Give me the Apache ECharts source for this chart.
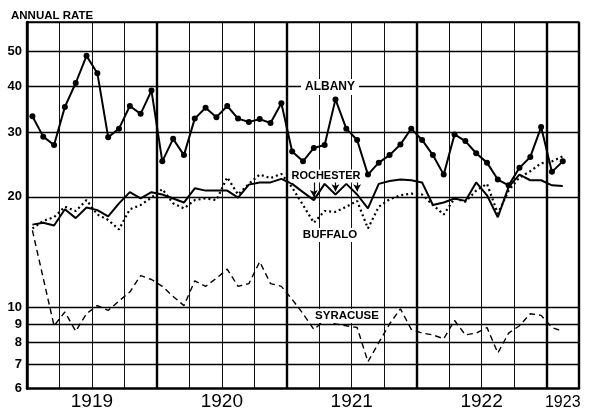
<!DOCTYPE html>
<html>
<head>
<meta charset="utf-8">
<script src="https://cdn.jsdelivr.net/npm/echarts@6/dist/echarts.min.js"></script>
<style>
html,body{margin:0;padding:0;background:#fff;}
#chart{width:594px;height:411px;}
</style>
</head>
<body>
<div id="chart"></div>
<script>
// months Jan 1919 .. Feb 1923
const months = [
  '1919-01','1919-02','1919-03','1919-04','1919-05','1919-06','1919-07','1919-08','1919-09','1919-10','1919-11','1919-12',
  '1920-01','1920-02','1920-03','1920-04','1920-05','1920-06','1920-07','1920-08','1920-09','1920-10','1920-11','1920-12',
  '1921-01','1921-02','1921-03','1921-04','1921-05','1921-06','1921-07','1921-08','1921-09','1921-10','1921-11','1921-12',
  '1922-01','1922-02','1922-03','1922-04','1922-05','1922-06','1922-07','1922-08','1922-09','1922-10','1922-11','1922-12',
  '1923-01','1923-02'
]

const albany = [33.2,29.2,27.7,35.2,40.9,48.5,43.5,29.1,30.7,35.4,33.7,39.0,
  25.0,28.8,26.0,32.7,35.0,33.0,35.4,32.7,32.0,32.6,31.8,36.0,
  26.6,25.0,27.2,27.7,36.9,30.7,28.6,23.0,24.8,26.0,27.8,30.7,
  28.6,26.0,23.0,29.6,28.4,26.3,24.8,22.3,21.5,24.0,25.7,31.0,
  23.4,25.0]

const rochester = [16.8,17.0,16.7,18.5,17.5,18.7,18.4,17.7,19.2,20.6,19.8,20.6,
  20.3,19.8,19.3,21.1,20.8,20.8,20.8,19.9,21.6,21.9,21.9,22.4,
  21.7,20.6,19.6,21.7,20.3,21.7,20.3,18.6,21.7,22.1,22.3,22.2,
  21.9,19.0,19.3,19.8,19.5,21.9,20.2,17.6,21.3,23.0,22.2,22.2,
  21.5,21.4]

const buffalo = [16.4,17.2,17.6,18.8,18.3,19.6,17.9,17.3,16.3,18.5,19.0,19.9,
  21.0,19.2,18.6,19.6,19.8,19.6,22.6,20.3,21.7,23.0,22.5,23.1,
  21.2,19.0,17.0,18.3,18.2,18.8,19.5,16.4,18.8,19.7,20.2,20.4,
  20.3,19.0,17.9,19.8,19.4,20.8,21.7,18.0,20.8,22.6,23.5,24.7,
  25.0,25.8]

const syracuse = [16.2,12.0,8.9,9.7,8.6,9.6,10.1,9.8,10.4,11.0,12.2,11.9,
  11.4,10.7,10.1,11.8,11.4,12.0,12.7,11.4,11.6,13.3,11.6,11.4,
  10.5,9.6,8.7,9.2,9.0,8.9,8.8,7.1,8.0,9.0,9.9,8.7,
  8.5,8.4,8.2,9.2,8.4,8.5,8.8,7.5,8.5,8.9,9.6,9.5,
  8.8,8.6]

// year labels, placed at the middle of each year (in months from Jan 1919)
const yearLabels = ['1919','1920','1921','1922','1923']
const yearMid = [6,18,30,42,49.5]
const yTicks = [6,7,8,9,10,20,30,40,50]
const yLines = [7,8,9,10,20,30,40,50,60]

// Rochester points marked with arrows
const arrowMonths = ['1921-03','1921-05','1921-07']

const FONT = '"Liberation Sans", Arial, sans-serif'

const chart = echarts.init(document.getElementById('chart'))

//每个月画在月份格子的中间
function toPts(arr){
  return arr.map((v,i)=>[i+0.5, v])
}

const arrowData = arrowMonths.map(m=>{
  const i = months.indexOf(m)
  return [{coord:[i+0.5, 22.6]},{coord:[i+0.5, rochester[i]*1.02]}]
})

const option = {
  animation:false,
  backgroundColor:'#fff',
  title:{
    text:'ANNUAL RATE', left:6, top:5,
    textStyle:{fontFamily:FONT, fontSize:11.5, fontWeight:'bold', color:'#000'}
  },
  grid:{left:27, right:15, top:22, bottom:20},
  xAxis:[
    {
      type:'value', min:0, max:51, interval:3, position:'bottom',
      axisLine:{show:true, onZero:false, lineStyle:{color:'#000', width:2.5}},
      axisTick:{show:false},
      splitLine:{show:true, lineStyle:{color:'#111', width:1}},
      axisLabel:{
        customValues:yearMid,
        formatter:v=>{
          const k = yearMid.indexOf(v)
          if(k<0) return ''
          // last year only partly shown, smaller label
          return k===yearLabels.length-1 ? '{s|'+yearLabels[k]+'}' : '{b|'+yearLabels[k]+'}'
        },
        rich:{
          b:{fontFamily:FONT, fontSize:19, color:'#000', lineHeight:22},
          s:{fontFamily:FONT, fontSize:16, color:'#000', lineHeight:22, padding:[2,0,0,0]}
        },
        fontFamily:FONT, fontSize:19, color:'#000', margin:2
      }
    },
    {
      type:'value', min:0, max:51, interval:12, position:'top',
      axisLine:{show:true, onZero:false, lineStyle:{color:'#000', width:1.5}},
      axisTick:{show:false},
      axisLabel:{show:false},
      splitLine:{show:true, lineStyle:{color:'#000', width:2.4}}
    }
  ],
  yAxis:[
    {
      type:'log', logBase:10, min:6, max:60,
      axisLine:{show:true, lineStyle:{color:'#000', width:2.5}},
      axisTick:{show:false, customValues:yLines},
      axisLabel:{customValues:yTicks, fontFamily:FONT, fontSize:13, fontWeight:'bold', color:'#000', margin:5},
      splitLine:{show:true, lineStyle:{color:'#000', width:1.3}}
    },
    {
      type:'log', logBase:10, min:6, max:60, position:'right',
      axisLine:{show:true, lineStyle:{color:'#000', width:1.8}},
      axisTick:{show:false}, axisLabel:{show:false}, splitLine:{show:false}
    }
  ],
  series:[
    {
      name:'Albany', type:'line', data:toPts(albany),
      symbol:'circle', symbolSize:6, showSymbol:true,
      itemStyle:{color:'#000'},
      lineStyle:{color:'#000', width:2}
    },
    {
      name:'Rochester', type:'line', data:toPts(rochester),
      symbol:'none',
      lineStyle:{color:'#000', width:2},
      markLine:{
        silent:true, symbol:['none','arrow'], symbolSize:[6,7],
        label:{show:false},
        lineStyle:{color:'#000', width:1.2, type:'solid'},
        data:arrowData
      }
    },
    {
      name:'Buffalo', type:'line', data:toPts(buffalo),
      symbol:'none',
      lineStyle:{color:'#000', width:2.2, type:[2,3]}
    },
    {
      name:'Syracuse', type:'line', data:toPts(syracuse),
      symbol:'none',
      lineStyle:{color:'#000', width:1.4, type:[6,4]}
    }
  ],
  graphic:[
    {type:'text', x:330, y:87, z:100, style:{text:'ALBANY', fill:'#000', font:'bold 12px '+FONT, align:'center', verticalAlign:'middle', backgroundColor:'#fff', padding:[2,4]}},
    {type:'text', x:326, y:176, z:100, style:{text:'ROCHESTER', fill:'#000', font:'bold 11px '+FONT, align:'center', verticalAlign:'middle', backgroundColor:'#fff', padding:[1,1]}},
    {type:'text', x:330, y:235, z:100, style:{text:'BUFFALO', fill:'#000', font:'bold 11.5px '+FONT, align:'center', verticalAlign:'middle', backgroundColor:'#fff', padding:[1,2]}},
    {type:'text', x:347, y:316, z:100, style:{text:'SYRACUSE', fill:'#000', font:'bold 11.5px '+FONT, align:'center', verticalAlign:'middle', backgroundColor:'#fff', padding:[1,3]}}
  ]
}

chart.setOption(option)
</script>
</body>
</html>
